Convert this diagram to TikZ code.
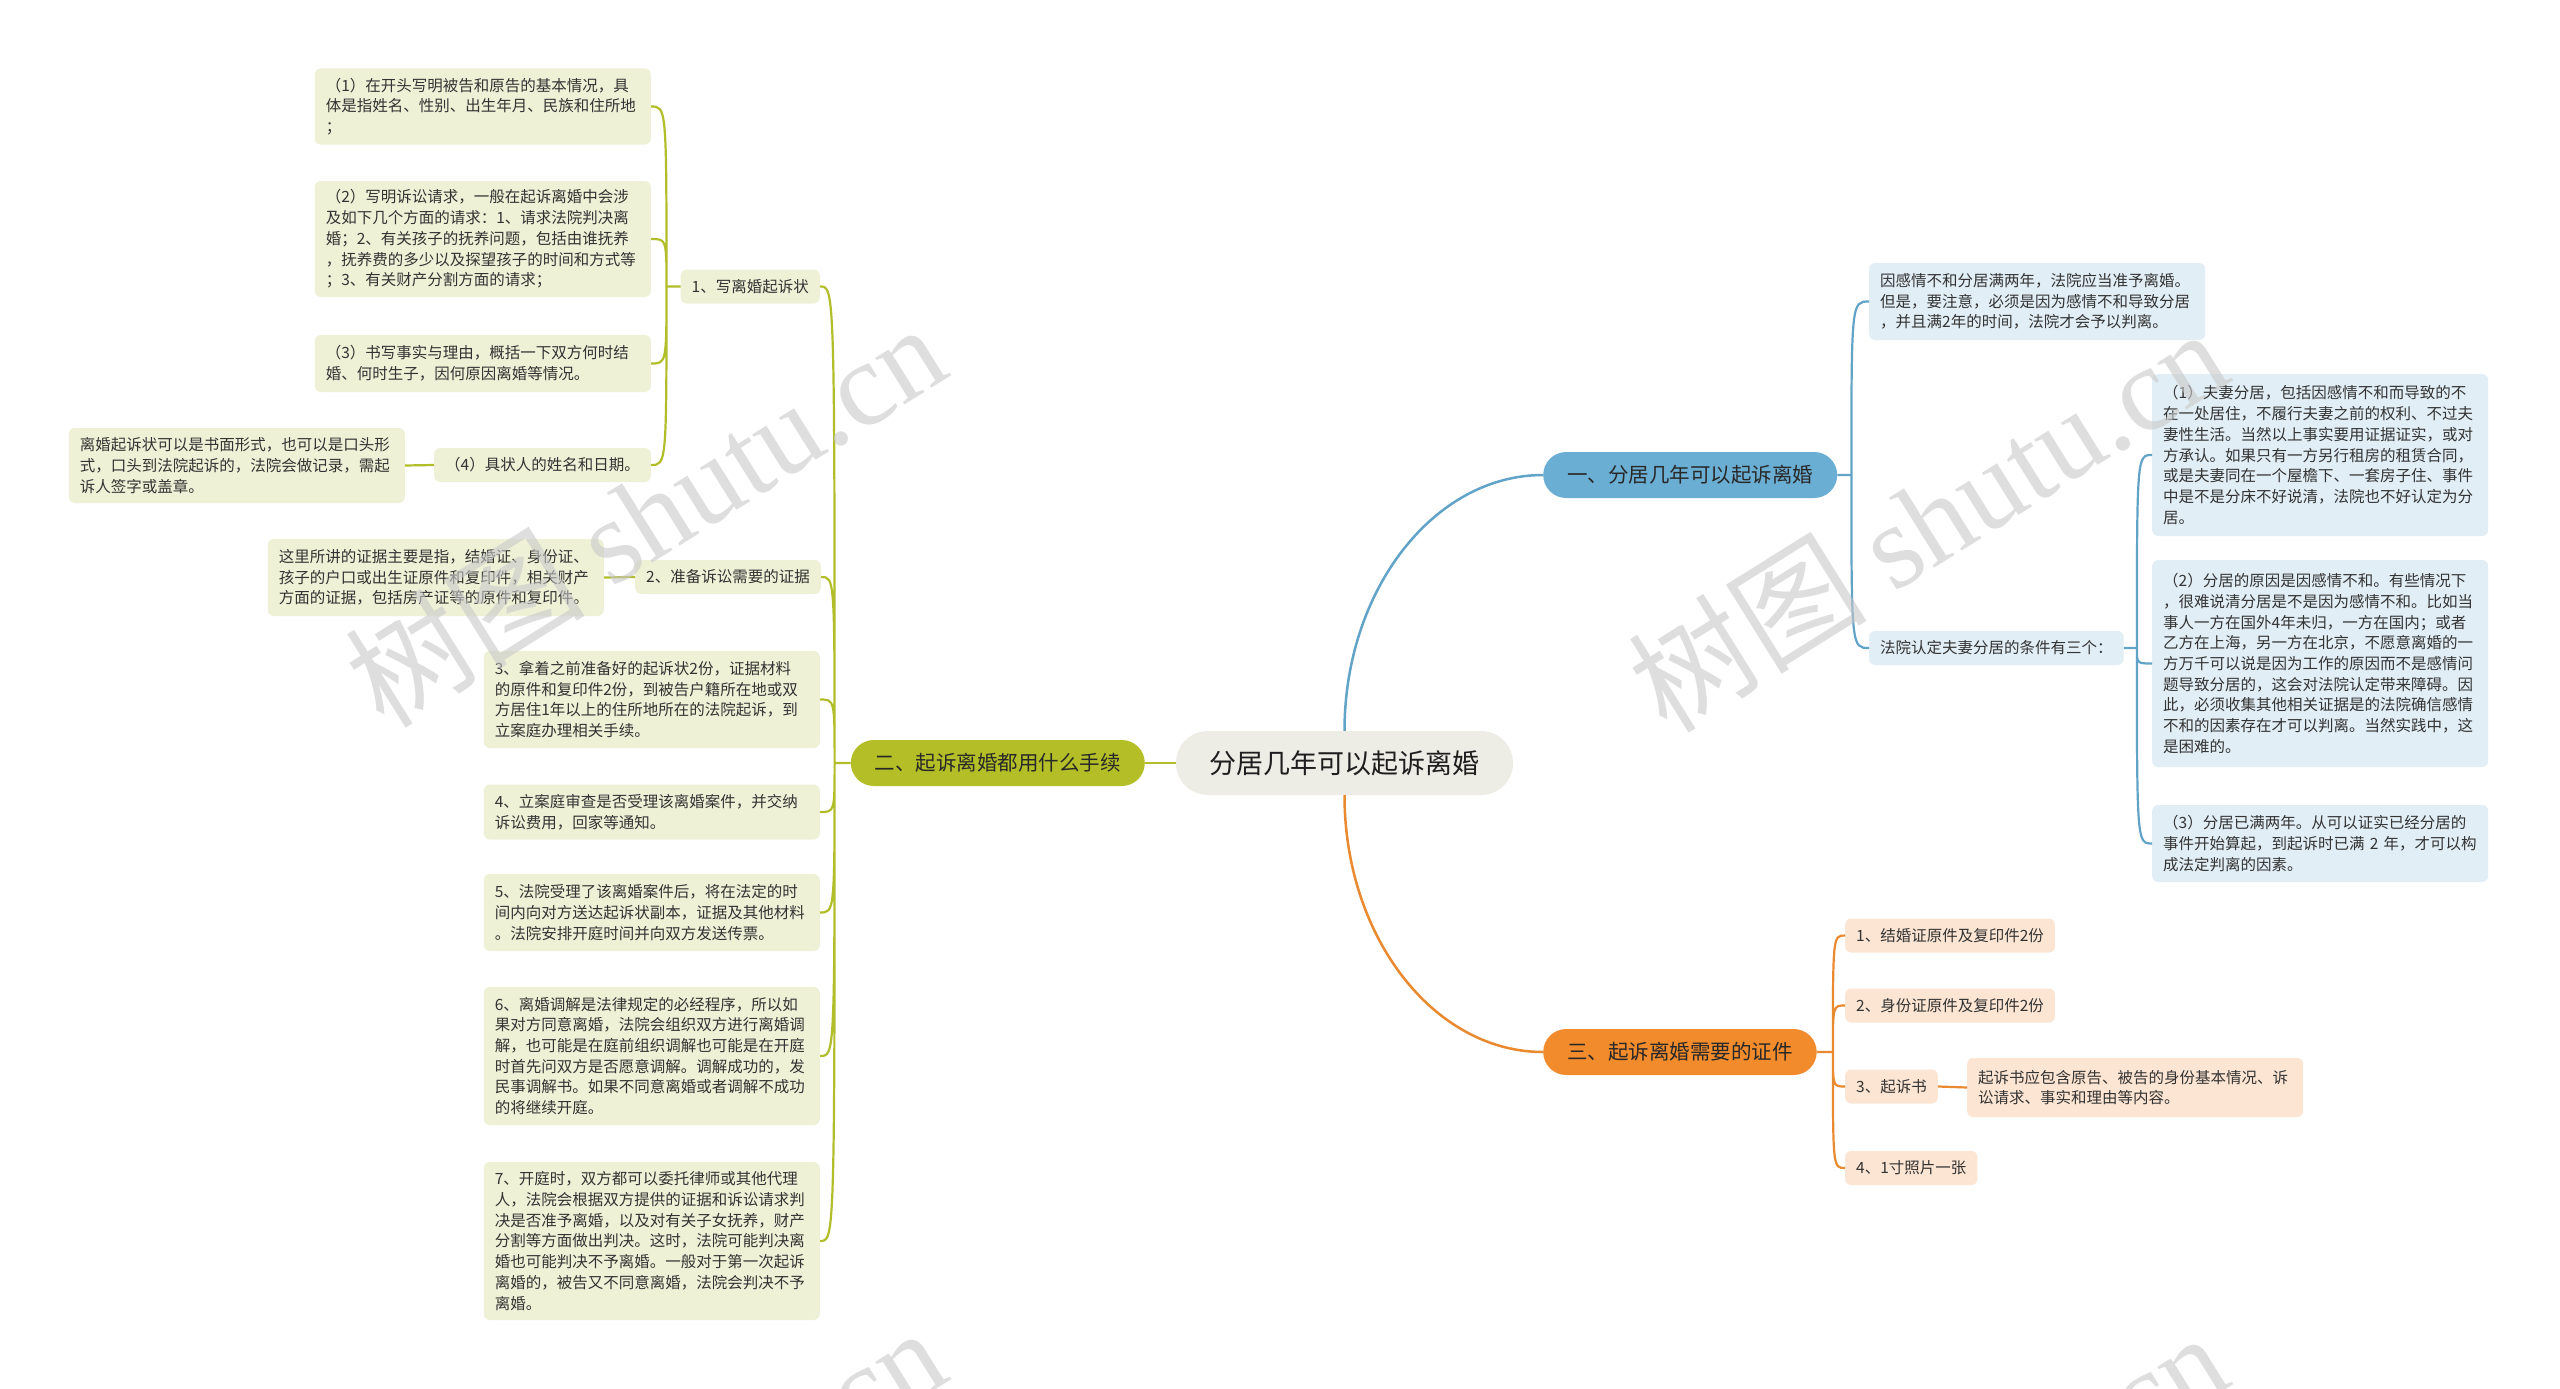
\documentclass[tikz,border=0pt]{standalone}
\usepackage{fontspec}
\setmainfont{Noto Sans CJK SC}
\newfontfamily\wmfont{Liberation Serif}
\definecolor{textc}{HTML}{333333}
\definecolor{cfill}{HTML}{EDECE5}
\definecolor{gpillc}{HTML}{B4BF27}
\definecolor{glinec}{HTML}{B2BD2A}
\definecolor{gfillc}{HTML}{EFF1D7}
\definecolor{bpillc}{HTML}{6BAED3}
\definecolor{blinec}{HTML}{62A3C8}
\definecolor{bfillc}{HTML}{E2EEF6}
\definecolor{opillc}{HTML}{F28B2C}
\definecolor{olinec}{HTML}{EA8A30}
\definecolor{ofillc}{HTML}{FCE5D3}
\definecolor{wmc}{HTML}{C8C8C8}
\begin{document}
\begin{tikzpicture}[x=1pt,y=-1pt,
  smallfont/.style={font=\fontsize{15.5}{20.7}\selectfont},
  sm/.style={smallfont, text=textc, rounded corners=6, inner xsep=11, inner ysep=4, minimum height=34},
  gsmall/.style={sm, fill=gfillc},
  bsmall/.style={sm, fill=bfillc},
  osmall/.style={sm, fill=ofillc},
  gbox/.style={gsmall, text width=314, align=left},
  bbox/.style={bsmall, text width=314, align=left},
  obox/.style={osmall, text width=314, align=left},
  pill/.style={font=\fontsize{20.5}{24}\selectfont, text={rgb,255:red,40;green,40;blue,40}, rounded corners=23, minimum height=46, inner xsep=24, inner ysep=2},
  gpill/.style={pill, fill=gpillc},
  bpill/.style={pill, fill=bpillc},
  opill/.style={pill, fill=opillc},
  cnode/.style={font=\fontsize{27}{30}\selectfont, text={rgb,255:red,30;green,30;blue,30}, fill=cfill, rounded corners=32, minimum height=64, minimum width=337, inner xsep=30},
  gline/.style={draw=glinec, line width=2.2},
  bline/.style={draw=blinec, line width=2.2},
  oline/.style={draw=olinec, line width=2.2},
  brk/.style={to path={-- ++(#1,0) coordinate (tmp) .. controls (tmp |- \tikztotarget) and (tmp |- \tikztotarget) .. (\tikztotarget)}},
  wm/.style={text=wmc, opacity=0.6, rotate=32, font=\fontsize{120}{130}\selectfont, inner sep=0}
]
\useasboundingbox (0,0) rectangle (2560,1389);
\fill[white] (0,0) rectangle (2560,1389);

% central and main branches
\node[cnode] (C) at (1344.5,763) {分居几年可以起诉离婚};
\node[gpill, anchor=east] (N2) at (1145,763) {二、起诉离婚都用什么手续};
\node[bpill, anchor=west] (N1) at (1543,475) {一、分居几年可以起诉离婚};
\node[opill, anchor=west] (N3) at (1543,1052) {三、起诉离婚需要的证件};

% left side
\node[gsmall, anchor=east] (B1) at (820,286.5) {1、写离婚起诉状};
\node[gbox, anchor=east, minimum height=76] (L1) at (651,106.5) {（1）在开头写明被告和原告的基本情况，具\\体是指姓名、性别、出生年月、民族和住所地\\；};
\node[gbox, anchor=east, minimum height=116] (L2) at (651,239) {（2）写明诉讼请求，一般在起诉离婚中会涉\\及如下几个方面的请求：1、请求法院判决离\\婚；2、有关孩子的抚养问题，包括由谁抚养\\，抚养费的多少以及探望孩子的时间和方式等\\；3、有关财产分割方面的请求；};
\node[gbox, anchor=east, minimum height=57] (L3) at (651,363.5) {（3）书写事实与理由，概括一下双方何时结\\婚、何时生子，因何原因离婚等情况。};
\node[gsmall, anchor=east] (L4) at (651,465) {（4）具状人的姓名和日期。};
\node[gbox, anchor=east, minimum height=75] (L4a) at (405,465.5) {离婚起诉状可以是书面形式，也可以是口头形\\式，口头到法院起诉的，法院会做记录，需起\\诉人签字或盖章。};
\node[gsmall, anchor=east] (B2) at (821,577) {2、准备诉讼需要的证据};
\node[gbox, anchor=east, minimum height=77] (B2a) at (604,577.5) {这里所讲的证据主要是指，结婚证、身份证、\\孩子的户口或出生证原件和复印件，相关财产\\方面的证据，包括房产证等的原件和复印件。};
\node[gbox, anchor=east, minimum height=97] (S3) at (820,699.5) {3、拿着之前准备好的起诉状2份，证据材料\\的原件和复印件2份，到被告户籍所在地或双\\方居住1年以上的住所地所在的法院起诉，到\\立案庭办理相关手续。};
\node[gbox, anchor=east, minimum height=55] (S4) at (820,812) {4、立案庭审查是否受理该离婚案件，并交纳\\诉讼费用，回家等通知。};
\node[gbox, anchor=east, minimum height=77] (S5) at (820,912.5) {5、法院受理了该离婚案件后，将在法定的时\\间内向对方送达起诉状副本，证据及其他材料\\。法院安排开庭时间并向双方发送传票。};
\node[gbox, anchor=east, minimum height=138] (S6) at (820,1056) {6、离婚调解是法律规定的必经程序，所以如\\果对方同意离婚，法院会组织双方进行离婚调\\解，也可能是在庭前组织调解也可能是在开庭\\时首先问双方是否愿意调解。调解成功的，发\\民事调解书。如果不同意离婚或者调解不成功\\的将继续开庭。};
\node[gbox, anchor=east, minimum height=158] (S7) at (820,1241) {7、开庭时，双方都可以委托律师或其他代理\\人，法院会根据双方提供的证据和诉讼请求判\\决是否准予离婚，以及对有关子女抚养，财产\\分割等方面做出判决。这时，法院可能判决离\\婚也可能判决不予离婚。一般对于第一次起诉\\离婚的，被告又不同意离婚，法院会判决不予\\离婚。};

% right side (blue)
\node[bbox, anchor=west, minimum height=77] (R1) at (1869,301.5) {因感情不和分居满两年，法院应当准予离婚。\\但是，要注意，必须是因为感情不和导致分居\\，并且满2年的时间，法院才会予以判离。};
\node[bsmall, anchor=west] (R2) at (1869,648) {法院认定夫妻分居的条件有三个：};
\node[bbox, anchor=west, minimum height=162] (R2a) at (2152,455) {（1）夫妻分居，包括因感情不和而导致的不\\在一处居住，不履行夫妻之前的权利、不过夫\\妻性生活。当然以上事实要用证据证实，或对\\方承认。如果只有一方另行租房的租赁合同，\\或是夫妻同在一个屋檐下、一套房子住、事件\\中是不是分床不好说清，法院也不好认定为分\\居。};
\node[bbox, anchor=west, minimum height=207] (R2b) at (2152,663.5) {（2）分居的原因是因感情不和。有些情况下\\，很难说清分居是不是因为感情不和。比如当\\事人一方在国外4年未归，一方在国内；或者\\乙方在上海，另一方在北京，不愿意离婚的一\\方万千可以说是因为工作的原因而不是感情问\\题导致分居的，这会对法院认定带来障碍。因\\此，必须收集其他相关证据是的法院确信感情\\不和的因素存在才可以判离。当然实践中，这\\是困难的。};
\node[bbox, anchor=west, minimum height=77] (R2c) at (2152,843.5) {（3）分居已满两年。从可以证实已经分居的\\事件开始算起，到起诉时已满 2 年，才可以构\\成法定判离的因素。};

% right side (orange)
\node[osmall, anchor=west] (O1) at (1845,935.5) {1、结婚证原件及复印件2份};
\node[osmall, anchor=west] (O2) at (1845,1005.5) {2、身份证原件及复印件2份};
\node[osmall, anchor=west] (O3) at (1845,1086.5) {3、起诉书};
\node[obox, anchor=west, minimum height=59] (O3a) at (1967,1087.5) {起诉书应包含原告、被告的身份基本情况、诉\\讼请求、事实和理由等内容。};
\node[osmall, anchor=west] (O4) at (1845,1168) {4、1寸照片一张};

% connectors
\draw[gline, line width=2.5] (C.west) -- (N2.east);
\draw[bline, line width=2.5] (C.north) .. controls +(0,-141) and +(-109,0) .. (N1.west);
\draw[oline, line width=2.5] (C.south) .. controls +(0,142) and +(-109,0) .. (N3.west);

\draw[gline] (N2.west) to[brk=-16] (B1.east)
             (N2.west) to[brk=-16] (B2.east)
             (N2.west) to[brk=-16] (S3.east)
             (N2.west) to[brk=-16] (S4.east)
             (N2.west) to[brk=-16] (S5.east)
             (N2.west) to[brk=-16] (S6.east)
             (N2.west) to[brk=-16] (S7.east);
\draw[gline] (B1.west) to[brk=-14] (L1.east)
             (B1.west) to[brk=-14] (L2.east)
             (B1.west) to[brk=-14] (L3.east)
             (B1.west) to[brk=-14] (L4.east);
\draw[gline] (L4.west) -- (L4a.east);
\draw[gline] (B2.west) -- (B2a.east);

\draw[bline] (N1.east) to[brk=14] (R1.west)
             (N1.east) to[brk=14] (R2.west);
\draw[bline] (R2.east) to[brk=13] (R2a.west)
             (R2.east) to[brk=13] (R2b.west)
             (R2.east) to[brk=13] (R2c.west);

\draw[oline] (N3.east) to[brk=16] (O1.west)
             (N3.east) to[brk=16] (O2.west)
             (N3.east) to[brk=16] (O3.west)
             (N3.east) to[brk=16] (O4.west);
\draw[oline] (O3.east) -- (O3a.west);

% watermarks
\begin{scope}
\clip (0,0) rectangle (2560,1389);
\node[wm] (W1) at (645,514) {树图 {\wmfont shutu.cn}};
\node[wm] (W2) at (1927,519) {树图 {\wmfont shutu.cn}};
\node[wm] (W3) at (645,1518) {树图 {\wmfont shutu.cn}};
\node[wm] (W4) at (1927,1523) {树图 {\wmfont shutu.cn}};
\end{scope}
\end{tikzpicture}
\end{document}
